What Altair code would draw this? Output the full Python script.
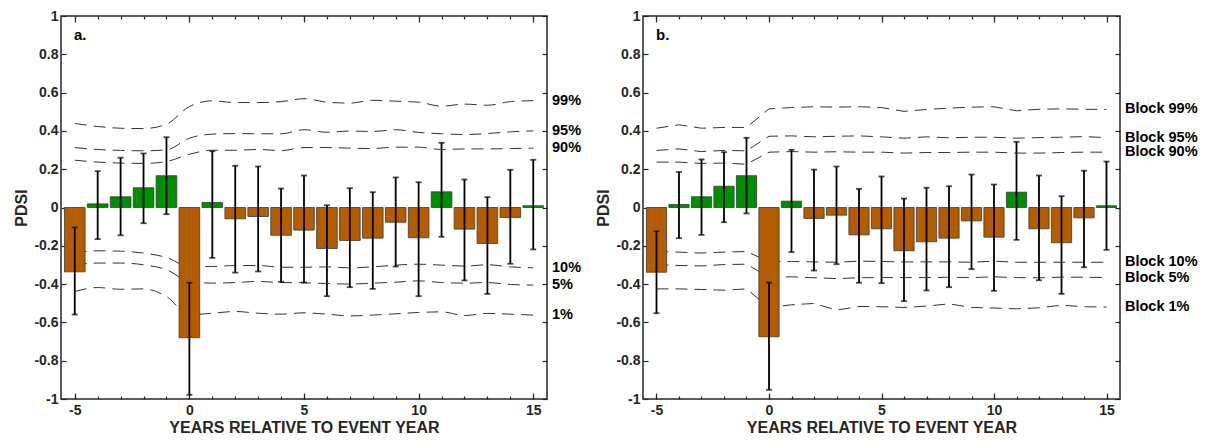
import altair as alt
import pandas as pd

years = list(range(-5, 16))

# ---- panel a ----
a_mean = [-0.336, 0.019, 0.056, 0.103, 0.166, -0.680, 0.026, -0.059, -0.047, -0.145, -0.118,
          -0.214, -0.172, -0.160, -0.077, -0.158, 0.082, -0.113, -0.188, -0.052, 0.009]
a_hi = [-0.104, 0.190, 0.260, 0.282, 0.367, -0.393, 0.294, 0.218, 0.214, 0.099, 0.167,
        0.012, 0.101, 0.080, 0.157, 0.132, 0.338, 0.146, 0.054, 0.197, 0.249]
a_lo = [-0.559, -0.165, -0.145, -0.082, -0.035, -0.978, -0.263, -0.340, -0.334, -0.388, -0.392,
        -0.463, -0.416, -0.425, -0.308, -0.463, -0.153, -0.381, -0.451, -0.294, -0.219]
a_p99 = [0.439, 0.423, 0.414, 0.412, 0.435, 0.527, 0.557, 0.548, 0.548, 0.553, 0.568,
         0.550, 0.545, 0.560, 0.555, 0.550, 0.529, 0.540, 0.534, 0.553, 0.558]
a_p95 = [0.313, 0.303, 0.298, 0.296, 0.301, 0.362, 0.383, 0.386, 0.385, 0.385, 0.406,
         0.393, 0.399, 0.397, 0.406, 0.392, 0.385, 0.381, 0.386, 0.395, 0.400]
a_p90 = [0.247, 0.237, 0.232, 0.230, 0.240, 0.278, 0.299, 0.299, 0.303, 0.297, 0.313,
         0.313, 0.310, 0.308, 0.315, 0.315, 0.303, 0.306, 0.306, 0.308, 0.310]
a_p10 = [-0.238, -0.226, -0.228, -0.238, -0.261, -0.308, -0.308, -0.303, -0.303, -0.312, -0.312,
         -0.310, -0.315, -0.310, -0.301, -0.296, -0.301, -0.306, -0.299, -0.310, -0.315]
a_p05 = [-0.299, -0.290, -0.290, -0.299, -0.325, -0.386, -0.395, -0.392, -0.386, -0.392, -0.393,
         -0.397, -0.400, -0.395, -0.390, -0.383, -0.392, -0.395, -0.392, -0.402, -0.405]
a_p01 = [-0.439, -0.418, -0.427, -0.425, -0.465, -0.560, -0.552, -0.543, -0.552, -0.557, -0.550,
         -0.557, -0.566, -0.562, -0.555, -0.548, -0.545, -0.564, -0.553, -0.557, -0.562]
a_labels = ["99%", "95%", "90%", "10%", "5%", "1%"]

# ---- panel b ----
b_mean = [-0.338, 0.016, 0.056, 0.111, 0.166, -0.675, 0.033, -0.057, -0.040, -0.143, -0.111,
          -0.226, -0.179, -0.160, -0.070, -0.155, 0.080, -0.111, -0.184, -0.054, 0.009]
b_hi = [-0.124, 0.186, 0.251, 0.289, 0.364, -0.392, 0.301, 0.198, 0.214, 0.097, 0.162,
        0.047, 0.103, 0.111, 0.172, 0.120, 0.343, 0.167, 0.059, 0.192, 0.240]
b_lo = [-0.552, -0.160, -0.143, -0.077, -0.031, -0.952, -0.233, -0.329, -0.296, -0.393, -0.395,
        -0.489, -0.433, -0.416, -0.322, -0.435, -0.169, -0.380, -0.451, -0.312, -0.221]
b_p99 = [0.414, 0.432, 0.414, 0.418, 0.418, 0.515, 0.522, 0.526, 0.524, 0.526, 0.522,
         0.502, 0.512, 0.519, 0.524, 0.526, 0.505, 0.513, 0.515, 0.513, 0.512]
b_p95 = [0.298, 0.306, 0.292, 0.298, 0.296, 0.372, 0.374, 0.369, 0.372, 0.374, 0.369,
         0.362, 0.369, 0.364, 0.367, 0.367, 0.362, 0.365, 0.367, 0.370, 0.365]
b_p90 = [0.237, 0.237, 0.230, 0.232, 0.226, 0.289, 0.292, 0.289, 0.291, 0.289, 0.289,
         0.284, 0.287, 0.287, 0.289, 0.289, 0.284, 0.284, 0.287, 0.289, 0.289]
b_p10 = [-0.230, -0.233, -0.238, -0.233, -0.230, -0.282, -0.282, -0.284, -0.286, -0.280, -0.282,
         -0.284, -0.284, -0.284, -0.286, -0.280, -0.286, -0.286, -0.286, -0.286, -0.286]
b_p05 = [-0.299, -0.303, -0.305, -0.298, -0.296, -0.364, -0.362, -0.367, -0.371, -0.367, -0.366,
         -0.366, -0.366, -0.364, -0.366, -0.362, -0.366, -0.367, -0.364, -0.364, -0.366]
b_p01 = [-0.425, -0.425, -0.428, -0.432, -0.425, -0.522, -0.508, -0.501, -0.536, -0.517, -0.518,
         -0.522, -0.515, -0.503, -0.522, -0.525, -0.529, -0.524, -0.510, -0.518, -0.520]
b_labels = ["Block 99%", "Block 95%", "Block 90%", "Block 10%", "Block 5%", "Block 1%"]

x_major = [-5, 0, 5, 10, 15]
y_ticks = [-1, -0.8, -0.6, -0.4, -0.2, 0, 0.2, 0.4, 0.6, 0.8, 1]

GREEN = "#008f00"
BROWN = "#b35c00"
INK = "#262626"
FONT = "Liberation Sans"
LABEL_EXPR = "(datum.value < 0 ? '-' : '') + format(abs(datum.value), '~g')"


def panel(mean, hi, lo, pcts, labels, letter, width, height, interp):
    bars_df = pd.DataFrame({
        "year": years, "mean": mean, "hi": hi, "lo": lo,
        "x0": [y - 0.45 for y in years], "x1": [y + 0.45 for y in years],
        "zero": [0.0] * len(years),
        "sign": ["pos" if m >= 0 else "neg" for m in mean],
    })
    rows = []
    for lab, series in zip(labels, pcts):
        for yr, v in zip(years, series):
            rows.append({"series": lab, "year": yr, "val": v})
    lines_df = pd.DataFrame(rows)
    lab_df = pd.DataFrame({"label": labels, "val": [s[-1] for s in pcts]})

    xs = alt.Scale(domain=[-5.6, 15.6], nice=False, zero=False)
    ys = alt.Scale(domain=[-1, 1], nice=False, zero=False)

    ax_bottom_major = alt.Axis(orient="bottom", values=x_major, tickSize=6, offset=-6,
                               domain=False, grid=False, labelPadding=4, labelExpr=LABEL_EXPR,
                               title="YEARS RELATIVE TO EVENT YEAR", titlePadding=2)
    ax_bottom_minor = alt.Axis(orient="bottom", values=years, tickSize=3, offset=-3,
                               domain=False, grid=False, labels=False, title=None)
    ax_top_major = alt.Axis(orient="top", values=x_major, tickSize=6, offset=-6,
                            domain=False, grid=False, labels=False, title=None)
    ax_top_minor = alt.Axis(orient="top", values=years, tickSize=3, offset=-3,
                            domain=False, grid=False, labels=False, title=None)
    ax_left = alt.Axis(orient="left", values=y_ticks, tickSize=5, offset=-5, domain=False,
                       grid=False, labelPadding=3, title="PDSI", titlePadding=4,
                       labelExpr=LABEL_EXPR)
    ax_right = alt.Axis(orient="right", values=y_ticks, tickSize=5, offset=-5, domain=False,
                        grid=False, labels=False, title=None)

    base = alt.Chart(bars_df)
    bars = base.mark_bar(stroke="#3a3a3a", strokeWidth=0.8).encode(
        x=alt.X("x0:Q", scale=xs, axis=ax_bottom_major),
        x2="x1:Q",
        y=alt.Y("mean:Q", scale=ys, axis=ax_left),
        y2="zero:Q",
        color=alt.Color("sign:N", scale=alt.Scale(domain=["pos", "neg"], range=[GREEN, BROWN]),
                        legend=None),
    )
    err = base.mark_rule(color="black", strokeWidth=1.8).encode(
        x=alt.X("year:Q", scale=xs, axis=ax_bottom_minor),
        y=alt.Y("lo:Q", scale=ys, axis=ax_right),
        y2="hi:Q",
    )
    cap_hi = base.mark_tick(orient="horizontal", color="black", size=6, thickness=1.8).encode(
        x=alt.X("year:Q", scale=xs, axis=ax_top_minor),
        y=alt.Y("hi:Q", scale=ys, axis=None),
    )
    cap_lo = base.mark_tick(orient="horizontal", color="black", size=6, thickness=1.8).encode(
        x=alt.X("year:Q", scale=xs, axis=None),
        y=alt.Y("lo:Q", scale=ys, axis=None),
    )
    lines = alt.Chart(lines_df).mark_line(color="#333333", strokeWidth=1, strokeDash=[12, 7],
                                          interpolate=interp).encode(
        x=alt.X("year:Q", scale=xs, axis=ax_top_major),
        y=alt.Y("val:Q", scale=ys, axis=None),
        detail="series:N",
    )
    texts = alt.Chart(lab_df).mark_text(align="left", baseline="middle", font=FONT,
                                        fontWeight="bold", fontSize=14.5, color="black").encode(
        x=alt.value(width + 5),
        y=alt.Y("val:Q", scale=ys, axis=None),
        text="label:N",
    )
    letter_mark = alt.Chart(pd.DataFrame({"t": [letter]})).mark_text(
        align="left", baseline="middle", font=FONT, fontWeight="bold", fontSize=15,
        color="black").encode(x=alt.value(13), y=alt.value(19), text="t:N")

    return alt.layer(lines, bars, err, cap_hi, cap_lo, texts, letter_mark).resolve_axis(
        x="independent", y="independent").properties(width=width, height=height)


pa = panel(a_mean, a_hi, a_lo, [a_p99, a_p95, a_p90, a_p10, a_p05, a_p01], a_labels, "a.",
           486, 383, "monotone")
pb = panel(b_mean, b_hi, b_lo, [b_p99, b_p95, b_p90, b_p10, b_p05, b_p01], b_labels, "b.",
           477, 383, "linear")

chart = alt.hconcat(pa, pb, spacing=13).properties(
    padding={"left": 5, "top": 0, "right": 0, "bottom": 0}
).configure_view(stroke=INK, strokeWidth=1.5).configure_axis(
    labelFont=FONT, labelFontWeight="bold", labelFontSize=14, labelColor=INK,
    titleFont=FONT, titleFontWeight="bold", titleFontSize=16, titleColor=INK,
    tickColor=INK, tickWidth=1.2,
)

chart.save("out.html", embed_options={"renderer": "svg", "actions": False})
